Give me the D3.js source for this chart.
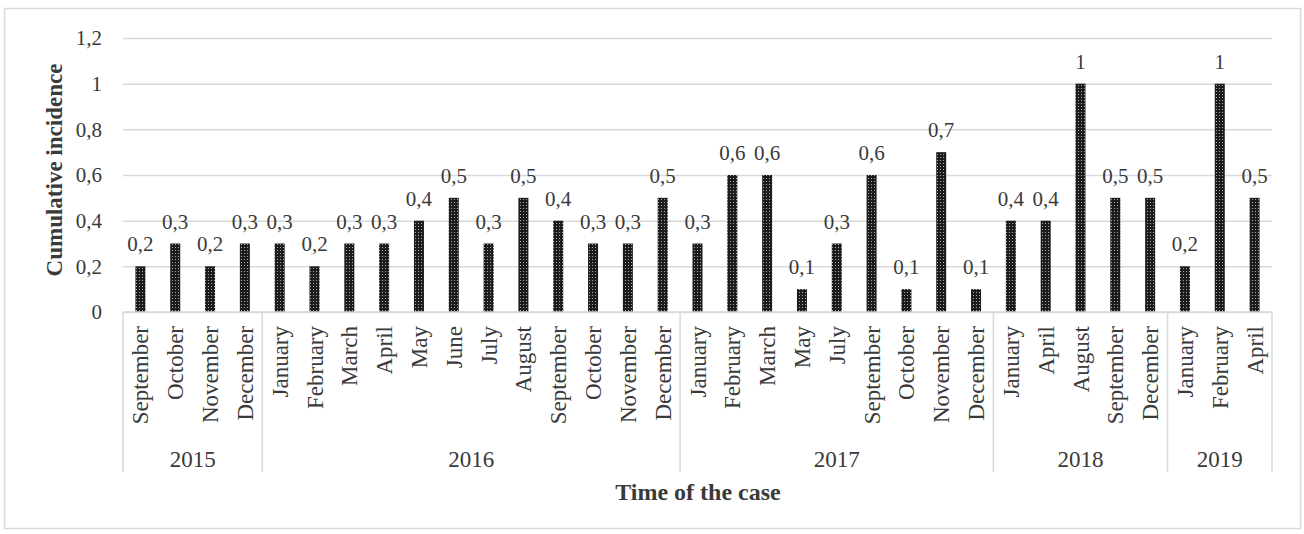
<!DOCTYPE html>
<html>
<head>
<meta charset="utf-8">
<script src="https://cdn.jsdelivr.net/npm/d3@7"></script>
<style>
  html, body { margin: 0; padding: 0; background: #fff; }
  svg { display: block; }
  text { font-family: "Liberation Serif", "Times New Roman", serif; fill: #3a3a3a; }
</style>
</head>
<body>
<svg id="chart" width="1304" height="534"></svg>
<script>
// Month of each case (first-level category)
const categoryMonths = [
  "September", "October", "November", "December",
  "January", "February", "March", "April", "May", "June", "July", "August",
  "September", "October", "November", "December",
  "January", "February", "March", "May", "July", "September", "October", "November", "December",
  "January", "April", "August", "September", "December",
  "January", "February", "April"
];
// Year of each case (second-level category)
const categoryYears = [
  "2015", "2015", "2015", "2015",
  "2016", "2016", "2016", "2016", "2016", "2016", "2016", "2016",
  "2016", "2016", "2016", "2016",
  "2017", "2017", "2017", "2017", "2017", "2017", "2017", "2017", "2017",
  "2018", "2018", "2018", "2018", "2018",
  "2019", "2019", "2019"
];
// Cumulative incidence per month
const incidence = [
  0.2, 0.3, 0.2, 0.3,
  0.3, 0.2, 0.3, 0.3, 0.4, 0.5, 0.3, 0.5,
  0.4, 0.3, 0.3, 0.5,
  0.3, 0.6, 0.6, 0.1, 0.3, 0.6, 0.1, 0.7, 0.1,
  0.4, 0.4, 1, 0.5, 0.5,
  0.2, 1, 0.5
];
const yTicks = [0, 0.2, 0.4, 0.6, 0.8, 1, 1.2];

const svg = d3.select("#chart");
const plotLeft = 123, plotRight = 1272, plotTop = 38, plotBase = 312;

const fmt = v => String(v).replace(".", ",");
const keys = categoryMonths.map((m, i) => i);

// Outer frame
svg.append("rect")
  .attr("x", 4.5).attr("y", 8.5).attr("width", 1296).attr("height", 520)
  .attr("fill", "#fff").attr("stroke", "#d9d9d9").attr("stroke-width", 1.5);

// Bar texture
const defs = svg.append("defs");
const pat = defs.append("pattern").attr("id", "barTexture")
  .attr("patternUnits", "userSpaceOnUse").attr("width", 3).attr("height", 3);
pat.append("rect").attr("width", 3).attr("height", 3).attr("fill", "#1c1c1c");
pat.append("rect").attr("x", 1).attr("y", 1).attr("width", 1).attr("height", 1).attr("fill", "#a8a8a8");

const x = d3.scaleBand().domain(keys).range([plotLeft, plotRight]).padding(0);
const y = d3.scaleLinear().domain([0, 1.2]).range([plotBase, plotTop]);
const barW = 10;

// Gridlines and y axis labels
const yAxis = d3.axisLeft(y).tickValues(yTicks).tickFormat(fmt)
  .tickSizeInner(-(plotRight - plotLeft)).tickSizeOuter(0).tickPadding(21);
const gy = svg.append("g").attr("transform", `translate(${plotLeft},0)`).call(yAxis);
gy.select(".domain").remove();
gy.selectAll(".tick line").attr("stroke", "#d9d9d9").attr("stroke-width", 1.5);
gy.selectAll(".tick text").attr("font-size", 21).attr("fill", "#3a3a3a")
  .style("font-family", "'Liberation Serif', serif");

// Bars
svg.append("g").selectAll("rect").data(incidence).join("rect")
  .attr("x", (d, i) => x(i) + (x.bandwidth() - barW) / 2)
  .attr("y", d => y(d))
  .attr("width", barW)
  .attr("height", d => plotBase - y(d))
  .attr("fill", "url(#barTexture)");

// Value labels
svg.append("g").selectAll("text").data(incidence).join("text")
  .attr("x", (d, i) => x(i) + x.bandwidth() / 2)
  .attr("y", d => y(d) - 15)
  .attr("text-anchor", "middle")
  .attr("font-size", 21)
  .text(fmt);

// Category axis baseline
svg.append("line")
  .attr("x1", plotLeft).attr("x2", plotRight).attr("y1", plotBase).attr("y2", plotBase)
  .attr("stroke", "#d9d9d9").attr("stroke-width", 1.5);

// Month labels
const xAxis = d3.axisBottom(x).tickSize(0).tickFormat(i => categoryMonths[i]);
const gx = svg.append("g").attr("transform", `translate(0,${plotBase})`).call(xAxis);
gx.select(".domain").remove();
gx.selectAll(".tick text")
  .attr("font-size", 23).attr("fill", "#3a3a3a")
  .style("font-family", "'Liberation Serif', serif")
  .attr("transform", "rotate(-90)")
  .attr("text-anchor", "end")
  .attr("x", -14).attr("y", 0).attr("dy", "0.35em");

// Year groups with separators
const groups = d3.groups(keys, i => categoryYears[i]);
const sepBottom = 472;
const bounds = [plotLeft];
groups.forEach(([yr, idx]) => bounds.push(x(idx[idx.length - 1]) + x.bandwidth()));
svg.append("g").selectAll("line").data(bounds).join("line")
  .attr("x1", d => d).attr("x2", d => d).attr("y1", plotBase).attr("y2", sepBottom)
  .attr("stroke", "#d9d9d9").attr("stroke-width", 1.5);

svg.append("g").selectAll("text").data(groups).join("text")
  .attr("x", ([yr, idx]) => (x(idx[0]) + x(idx[idx.length - 1]) + x.bandwidth()) / 2)
  .attr("y", 467)
  .attr("text-anchor", "middle")
  .attr("font-size", 23)
  .text(([yr]) => yr);

// Axis titles
svg.append("text")
  .attr("x", 698).attr("y", 500)
  .attr("text-anchor", "middle")
  .attr("font-size", 24).attr("font-weight", "bold")
  .attr("fill", "#1e1e1e")
  .text("Time of the case");

svg.append("text")
  .attr("transform", "translate(62,170) rotate(-90)")
  .attr("text-anchor", "middle")
  .attr("font-size", 23).attr("font-weight", "bold")
  .attr("fill", "#1e1e1e")
  .text("Cumulative incidence");
</script>
</body>
</html>
